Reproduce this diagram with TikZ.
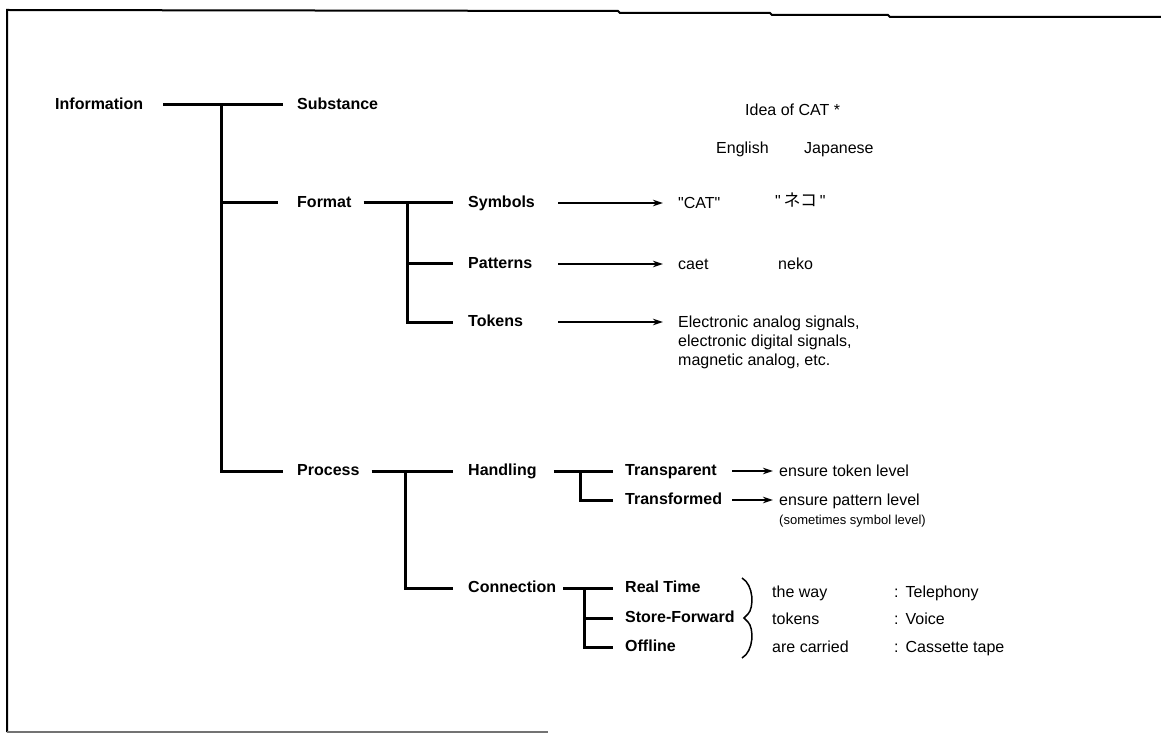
\documentclass[tikz,border=0pt]{standalone}
\usepackage{fontspec}
\setmainfont{Liberation Sans}
\newfontfamily\jpfont{Noto Sans CJK JP}
\usetikzlibrary{arrows.meta}
\begin{document}
\begin{tikzpicture}[x=1pt,y=-1pt,
  lbl/.style={anchor=west,inner sep=0pt,text height=11.5pt,text depth=3pt,font=\fontsize{16}{19}\selectfont\bfseries},
  txt/.style={anchor=west,inner sep=0pt,text height=11.5pt,text depth=3pt,font=\fontsize{16}{19}\selectfont},
  small/.style={anchor=west,inner sep=0pt,font=\fontsize{13}{15}\selectfont},
  tree/.style={line width=3pt,line cap=butt},
  arr/.style={line width=1.8pt,-{Stealth[length=10pt,width=6.5pt]}},
  frame/.style={line width=2pt}]
\useasboundingbox (0,0) rectangle (1161,735);

% outer frame (top, left, partial bottom)
\draw[frame] (7,732) -- (7,10) -- (618,11) -- (620,13) -- (770,13) -- (772,15) -- (888,15) -- (890,17) -- (1161,17);
\draw[line width=1.3pt,black!55] (7,732) -- (548,732);

% column guides for the arrow tails
\coordinate (acol) at (558,0);
\coordinate (bcol) at (732,0);

% level 1
\node[lbl] (info) at (55,105) {Information};
\node[lbl] (subst) at (297,105) {Substance};
\node[lbl] (format) at (297,203) {Format};
\node[lbl] (process) at (297,471) {Process};
\coordinate (j1) at (221,105);
\draw[tree] ([xshift=20pt]info.east) -- ([xshift=-14pt]subst.west);
\draw[tree] (j1) |- ([xshift=-14pt]process.west);
\draw[tree] (j1 |- format) -- ([xshift=-19pt]format.west);

% format branch
\node[lbl] (symbols) at (468,203) {Symbols};
\node[lbl] (patterns) at (468,264) {Patterns};
\node[lbl] (tokens) at (468,322) {Tokens};
\coordinate (j2) at (407,203);
\draw[tree] ([xshift=12pt]format.east) -- ([xshift=-15pt]symbols.west);
\draw[tree] (j2) |- ([xshift=-15pt]tokens.west);
\draw[tree] (j2 |- patterns) -- ([xshift=-15pt]patterns.west);

% examples of the idea of CAT
\node[txt] (idea) at (745,111) {Idea of CAT *};
\node[txt] (eng) at (716,149) {English};
\node[txt] (jap) at (804,149) {Japanese};
\node[txt] (cat) at (678,204) {\textquotedbl CAT\textquotedbl};
\node[txt] (neko) at (775,202) {\textquotedbl\,{\jpfont\fontsize{17}{19}\selectfont ネコ}\,\textquotedbl};
\node[txt] (caet) at (678,265) {caet};
\node[txt] (nekor) at (778,265) {neko};
\node[txt] (tok1) at (678,323) {Electronic analog signals,};
\node[txt] (tok2) at (678,342) {electronic digital signals,};
\node[txt] (tok3) at (678,361) {magnetic analog, etc.};
\draw[arr] (acol |- symbols) -- ([xshift=-15pt]cat.west |- symbols);
\draw[arr] (acol |- patterns) -- ([xshift=-15pt]caet.west |- patterns);
\draw[arr] (acol |- tokens) -- ([xshift=-15pt]tok1.west |- tokens);

% process branch
\node[lbl] (handling) at (468,471) {Handling};
\node[lbl] (connection) at (468,588) {Connection};
\coordinate (j3) at (405,471);
\draw[tree] ([xshift=12pt]process.east) -- ([xshift=-15pt]handling.west);
\draw[tree] (j3) |- ([xshift=-15pt]connection.west);

% handling
\node[lbl] (transp) at (625,471) {Transparent};
\node[lbl] (transf) at (625,500) {Transformed};
\coordinate (j4) at (580,471);
\draw[tree] ([xshift=17pt]handling.east) -- ([xshift=-12pt]transp.west);
\draw[tree] (j4) |- ([xshift=-12pt]transf.west);
\node[txt] (etl) at (779,472) {ensure token level};
\node[txt] (epl) at (779,501) {ensure pattern level};
\node[small] (ssl) at (779,521) {(sometimes symbol level)};
\draw[arr] (bcol |- transp) -- ([xshift=-6pt]etl.west |- transp);
\draw[arr] (bcol |- transf) -- ([xshift=-6pt]epl.west |- transf);

% connection
\node[lbl] (real) at (625,588) {Real Time};
\node[lbl] (store) at (625,618) {Store-Forward};
\node[lbl] (offline) at (625,647) {Offline};
\coordinate (j5) at (584,588);
\draw[tree] ([xshift=7pt]connection.east) -- ([xshift=-12pt]real.west);
\draw[tree] (j5) |- ([xshift=-12pt]offline.west);
\draw[tree] (j5 |- store) -- ([xshift=-12pt]store.west);

% brace
\coordinate (brtop) at (742,578);
\coordinate (brbot) at (742,658);
\draw[line width=1.5pt] (brtop) .. controls (754,585) and (754,608) .. (748,614) -- (744,618) -- (748,622) .. controls (754,628) and (754,651) .. (brbot);

\node[txt] (way) at (772,593) {the way};
\node[txt] (toks) at (772,620) {tokens};
\node[txt] (carried) at (772,648) {are carried};
\node[txt] (tel) at (894,593) {:\hspace{7pt}Telephony};
\node[txt] (voice) at (894,620) {:\hspace{7pt}Voice};
\node[txt] (tape) at (894,648) {:\hspace{7pt}Cassette tape};
\end{tikzpicture}
\end{document}
